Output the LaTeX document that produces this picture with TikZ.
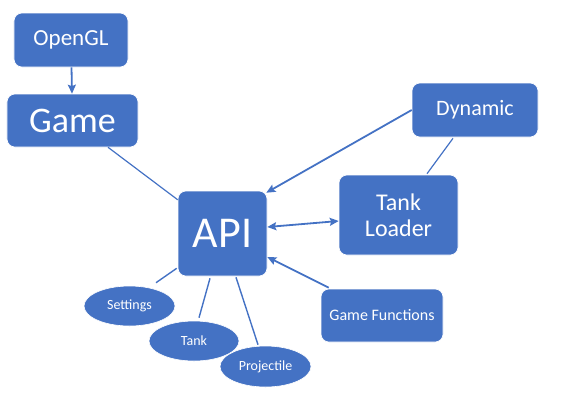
\documentclass[tikz,border=0pt]{standalone}
\usepackage{fontspec}
\setmainfont{Carlito}
\usetikzlibrary{calc,arrows.meta,shapes.geometric}
\definecolor{offblue}{HTML}{4472C4}
\tikzset{
  box/.style={rectangle, rounded corners=8bp, fill=offblue, draw=white, line width=0.6bp, text=white, inner sep=0pt, align=center},
  oval/.style={ellipse, fill=offblue, draw=white, line width=0.6bp, text=white, inner sep=0pt, font=\fontsize{14bp}{16bp}\selectfont},
  conn/.style={draw=offblue, line width=1.4bp},
  arr/.style={conn, line width=1.8bp, -{Stealth[length=9bp,width=8bp,inset=1.5bp]}},
  darr/.style={conn, line width=1.8bp, {Stealth[length=9bp,width=8bp,inset=1.5bp]}-{Stealth[length=9bp,width=8bp,inset=1.5bp]}},
}
\begin{document}
\begin{tikzpicture}[x=1bp,y=-1bp]
\useasboundingbox (0,0) rectangle (564,416);
\node[box, minimum width=114bp, minimum height=54bp, font=\fontsize{23bp}{26bp}\selectfont] (OpenGL) at (71,40) {OpenGL};
\node[box, minimum width=131bp, minimum height=53bp, font=\fontsize{36bp}{40bp}\selectfont] (Game) at (72.5,120.5) {Game};
\node[box, minimum width=89bp, minimum height=85bp, font=\fontsize{44bp}{48bp}\selectfont] (API) at (222.5,233.5) {API};
\node[box, minimum width=126bp, minimum height=54bp, font=\fontsize{22bp}{25bp}\selectfont] (Dynamic) at (475,110) {Dynamic};
\node[box, minimum width=119bp, minimum height=80bp, font=\fontsize{24bp}{26bp}\selectfont] (TL) at (398.5,215) {Tank\\Loader};
\node[box, minimum width=122bp, minimum height=53bp, font=\fontsize{16bp}{19bp}\selectfont] (GF) at (382,315.5) {Game Functions};
\node[oval, minimum width=91bp, minimum height=40bp] (Settings) at (129.5,306) {Settings};
\node[oval, minimum width=90bp, minimum height=40bp] (Tank) at (194,341) {Tank};
\node[oval, minimum width=91bp, minimum height=41bp] (Proj) at (265.5,366.5) {Projectile};

\draw[arr] (OpenGL) -- (Game);
\draw[conn, line width=1.2bp] (Game) -- (API);
\draw[arr] (Dynamic.west) -- ($(API.north east)+(-1,2)$);
\draw[conn, line width=1.2bp] ($(Dynamic.south)+(-22,1)$) -- ($(TL.north)+(28.5,-1)$);
\draw[darr] ($(API.east)+(0,-6.5)$) -- ($(TL.west)+(0,6)$);
\draw[arr] ($(GF.north west)+(8,-1)$) -- ($(API.east)+(0,23.5)$);
\draw[conn] ($(API.south west)+(-1,-8)$) -- ($(Settings.north)+(26.5,-3)$);
\draw[conn] ($(API.south)+(-12.5,2)$) -- ($(Tank.north)+(5,-3)$);
\draw[conn] ($(API.south)+(13.5,1)$) -- ($(Proj.north)+(-7.5,-1)$);
\end{tikzpicture}
\end{document}
